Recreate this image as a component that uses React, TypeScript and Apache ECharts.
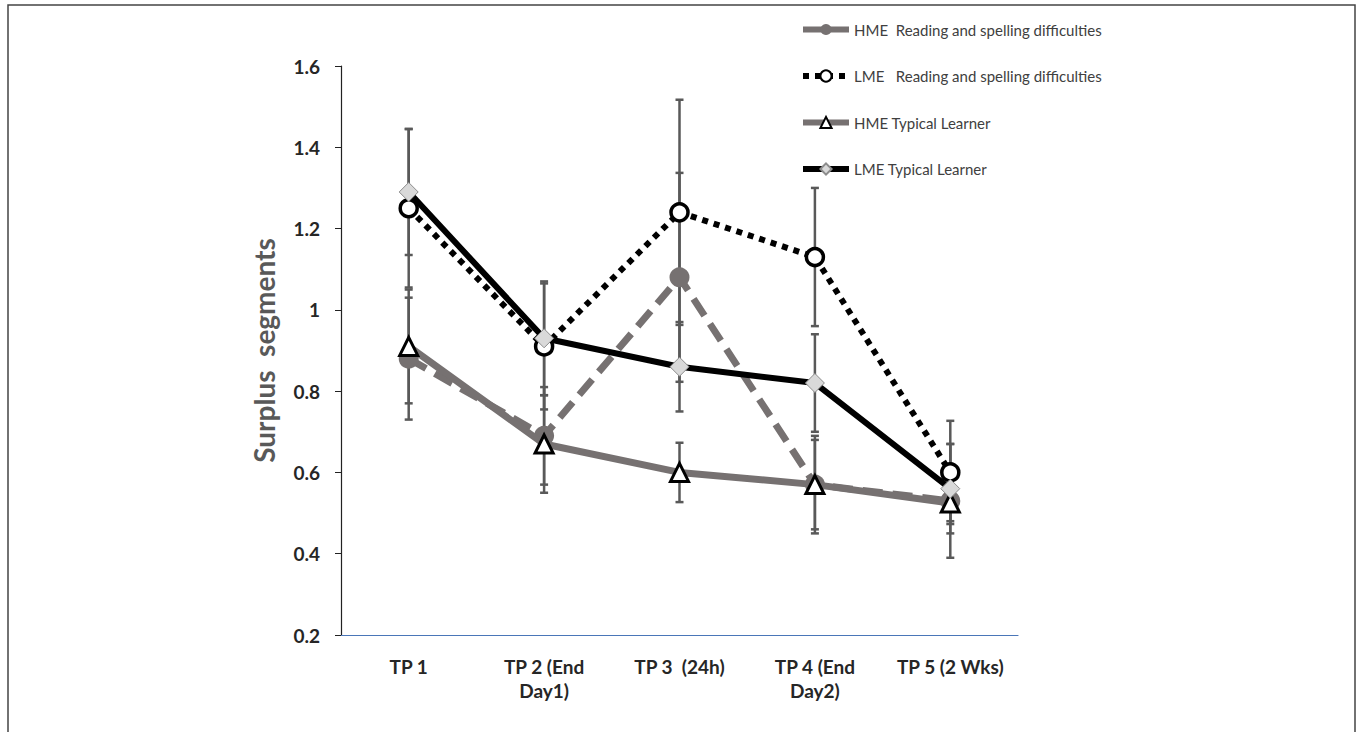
import React, { useEffect, useRef } from "react";
import * as echarts from "echarts";

const categories = ["TP 1", "TP 2 (End Day1)", "TP 3  (24h)", "TP 4 (End Day2)", "TP 5 (2 Wks)"];
const yTicks = { min: 0.2, max: 1.6, interval: 0.2 };

const seriesNames = [
  "HME  Reading and spelling difficulties",
  "LME   Reading and spelling difficulties",
  "HME Typical Learner",
  "LME Typical Learner",
];

const hmeRsd = [0.88, 0.69, 1.08, 0.57, 0.53];
const lmeRsd = [1.25, 0.91, 1.24, 1.13, 0.6];
const hmeTl = [0.91, 0.67, 0.6, 0.57, 0.525];
const lmeTl = [1.29, 0.93, 0.86, 0.82, 0.56];

const hmeRsdSd = [0.15, 0.12, 0.257, 0.12, 0.14];
const lmeRsdSd = [0.195, 0.155, 0.277, 0.17, 0.127];
const hmeTlSd = [0.14, 0.12, 0.073, 0.11, 0.045];
const lmeTlSd = [0.155, 0.14, 0.11, 0.12, 0.11];

const GREY = "#767171";
const BAR = "#595959";

function errData(mean: number[], sd: number[]) {
  return mean.map((m, i) => [i, m - sd[i], m + sd[i]]);
}

function errSeries(mean: number[], sd: number[]) {
  return {
    type: "custom",
    z: 1,
    silent: true,
    encode: { x: 0, y: [1, 2] },
    data: errData(mean, sd),
    renderItem: (params: any, api: any) => {
      const x = api.value(0);
      const lo = api.coord([x, api.value(1)]);
      const hi = api.coord([x, api.value(2)]);
      const cap = 4;
      const style = { stroke: BAR, lineWidth: 2.5 };
      return {
        type: "group",
        children: [
          { type: "line", shape: { x1: lo[0], y1: lo[1], x2: hi[0], y2: hi[1] }, style },
          { type: "line", shape: { x1: lo[0] - cap, y1: lo[1], x2: lo[0] + cap, y2: lo[1] }, style },
          { type: "line", shape: { x1: hi[0] - cap, y1: hi[1], x2: hi[0] + cap, y2: hi[1] }, style },
        ],
      };
    },
  };
}

export default function App() {
  const ref = useRef<HTMLDivElement>(null);
  useEffect(() => {
    document.body.style.margin = "0";
    const chart = echarts.init(ref.current!, null, { renderer: "svg" });
    const font = "Lato, 'Open Sans', sans-serif";
    chart.setOption({
      animation: false,
      backgroundColor: "#ffffff",
      textStyle: { fontFamily: font },
      graphic: [
        {
          type: "rect",
          shape: { x: 8, y: 5, width: 1347, height: 740 },
          style: { fill: "none", stroke: "#444", lineWidth: 1.5 },
          silent: true,
        },
      ],
      legend: {
        orient: "vertical",
        left: 795,
        top: 17,
        itemWidth: 46,
        itemHeight: 14,
        itemGap: 31.5,
        textStyle: { fontSize: 15, color: "#404040", fontFamily: font },
        lineStyle: { width: 6 },
        data: [
          { name: seriesNames[0], lineStyle: { type: "solid", width: 6, color: GREY } },
          { name: seriesNames[1] },
          { name: seriesNames[2] },
          { name: seriesNames[3] },
        ],
      },
      grid: { left: 341, top: 66, right: 339, bottom: 97 },
      xAxis: {
        type: "category",
        data: categories,
        boundaryGap: true,
        axisLine: { lineStyle: { color: "#4a76b8", width: 1.2 } },
        axisTick: { show: false },
        axisLabel: {
          margin: 19,
          fontSize: 19,
          fontWeight: "bold",
          color: "#262626",
          lineHeight: 24,
          interval: 0,
          formatter: (v: string) => v.replace(" Day", "\nDay"),
        },
      },
      yAxis: {
        type: "value",
        min: yTicks.min,
        max: yTicks.max,
        interval: yTicks.interval,
        splitLine: { show: false },
        axisLine: { show: true, lineStyle: { color: "#222", width: 1.2 } },
        axisTick: { show: true, length: 6, lineStyle: { color: "#222" } },
        axisLabel: { margin: 21, fontSize: 19, fontWeight: "bold", color: "#262626" },
        name: "Surplus  segments",
        nameLocation: "middle",
        nameRotate: 90,
        nameGap: 63,
        nameTextStyle: { fontSize: 28, fontWeight: "bold", color: "#595959", fontFamily: font },
      },
      series: [
        errSeries(hmeRsd, hmeRsdSd),
        errSeries(lmeRsd, lmeRsdSd),
        errSeries(hmeTl, hmeTlSd),
        errSeries(lmeTl, lmeTlSd),
        {
          name: seriesNames[0],
          type: "line",
          z: 2,
          data: hmeRsd,
          symbol: "circle",
          symbolSize: 20,
          lineStyle: { color: GREY, width: 7, type: [20, 10] },
          itemStyle: { color: GREY, borderColor: GREY, borderWidth: 0 },
        },
        {
          name: seriesNames[1],
          type: "line",
          z: 3,
          data: lmeRsd,
          symbol: "circle",
          symbolSize: 17,
          lineStyle: { color: "#000", width: 6, type: "dotted" },
          itemStyle: { color: "#fff", borderColor: "#000", borderWidth: 3.5 },
        },
        {
          name: seriesNames[2],
          type: "line",
          z: 4,
          data: hmeTl,
          symbol: "triangle",
          symbolSize: 18,
          lineStyle: { color: GREY, width: 7 },
          itemStyle: { color: "#fff", borderColor: "#000", borderWidth: 3 },
        },
        {
          name: seriesNames[3],
          type: "line",
          z: 5,
          data: lmeTl,
          symbol: "diamond",
          symbolSize: 19,
          lineStyle: { color: "#000", width: 6 },
          itemStyle: { color: "#d9d9d9", borderColor: "#8c8c8c", borderWidth: 1 },
        },
      ],
    });
    return () => chart.dispose();
  }, []);
  return <div ref={ref} style={{ width: 1357, height: 732 }} />;
}
